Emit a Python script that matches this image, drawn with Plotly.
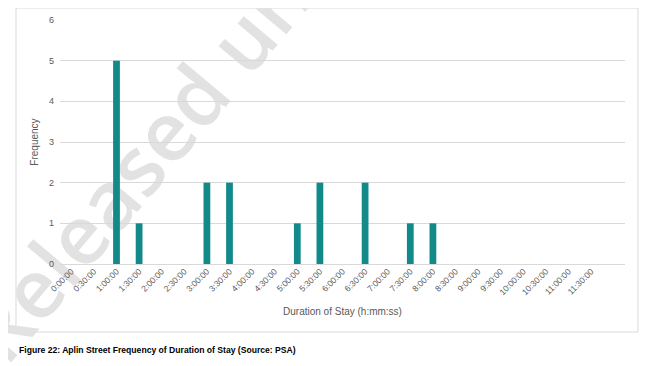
import plotly.graph_objects as go

categories = ["0:00:00", "0:30:00", "1:00:00", "1:30:00", "2:00:00", "2:30:00",
              "3:00:00", "3:30:00", "4:00:00", "4:30:00", "5:00:00", "5:30:00",
              "6:00:00", "6:30:00", "7:00:00", "7:30:00", "8:00:00", "8:30:00",
              "9:00:00", "9:30:00", "10:00:00", "10:30:00", "11:00:00", "11:30:00"]
frequency = [0, 0, 5, 1, 0, 0, 2, 2, 0, 0, 1, 2, 0, 2, 0, 1, 1, 0, 0, 0, 0, 0, 0, 0]
y_ticks = [0, 1, 2, 3, 4, 5, 6]

FONT = "Liberation Sans, Arial, sans-serif"
GRAY = "#595959"

# the page body has an 8px margin; work in screen pixels and shift by it
OFF = 8
FW, FH = 650 - OFF, 366 - OFF
# plot area in screen pixels
L, R, T, B = 60, 625, 20, 264
W, H = R - L, B - T

def px(x):
    return (x - L) / W

def py(y):
    return (B - y) / H

fig = go.Figure()
fig.add_trace(go.Bar(x=categories, y=frequency, marker_color="#138A8A",
                     marker_line_width=0, width=0.3))

fig.update_layout(
    width=FW, height=FH,
    margin=dict(l=L - OFF, r=650 - R, t=T - OFF, b=366 - B, pad=0),
    paper_bgcolor="white", plot_bgcolor="rgba(0,0,0,0)",
    showlegend=False,
    font=dict(family=FONT, color=GRAY, size=9),
    xaxis=dict(type="category", categoryorder="array", categoryarray=categories,
               range=[-0.5, len(categories) + 0.5], automargin=False,
               tickangle=-45, tickfont=dict(size=8.5, color=GRAY),
               showgrid=False, showline=False, zeroline=False, ticks="",
               title=dict(text="Duration of Stay (h:mm:ss)",
                          font=dict(size=10, color=GRAY), standoff=11)),
    yaxis=dict(range=[0, 6], tickvals=y_ticks, showgrid=True, gridcolor="#d9d9d9",
               gridwidth=1, zeroline=True, zerolinecolor="#d9d9d9", zerolinewidth=1,
               showline=False, ticks="", automargin=False, ticklabelstandoff=5,
               tickfont=dict(size=9, color=GRAY),
               title=dict(text="Frequency", font=dict(size=10, color=GRAY), standoff=8)),
)

# chart frame
fig.add_shape(type="rect", xref="paper", yref="paper",
              x0=px(16), x1=px(638), y0=py(332), y1=py(8),
              line=dict(color="#d9d9d9", width=1), fillcolor="rgba(0,0,0,0)", layer="below")

# watermark (behind grid and bars)
cx, cy = 184, 116
fig.add_shape(type="rect", xref="paper", yref="paper",
              x0=px(cx - 5), x1=px(cx + 5), y0=py(cy + 5), y1=py(cy - 5),
              line=dict(width=0), fillcolor="rgba(0,0,0,0)", layer="below",
              label=dict(text="Released under", textangle=-50, textposition="middle center",
                         font=dict(size=82, color="#e2e2e2", weight=600,
                                   family="Open Sans, sans-serif")))

# caption
fig.add_annotation(text="<b>Figure 22: Aplin Street Frequency of Duration of Stay (Source: PSA)</b>",
                   xref="paper", yref="paper", x=px(17), y=py(350),
                   xanchor="left", yanchor="middle", showarrow=False,
                   font=dict(size=8.6, color="#000000", family=FONT))

fig.write_html("out.html")
